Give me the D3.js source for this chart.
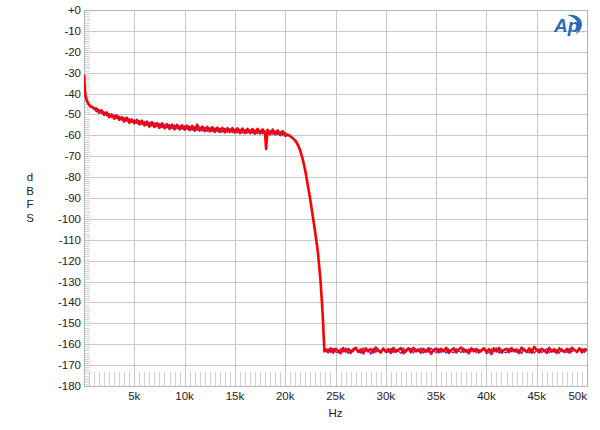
<!DOCTYPE html>
<html><head><meta charset="utf-8">
<script src="https://cdn.jsdelivr.net/npm/d3@7"></script>
<style>body{margin:0;background:#fff}svg{display:block}</style>
</head><body><svg id="c" width="600" height="430"></svg>
<script>
// frequency bins in kHz
const freqKHz = [0.02,0.06,0.1,0.15,0.25,0.4,0.6,0.8,1,
1.25,1.5,1.75,2,2.25,2.5,2.75,3,3.25,3.5,3.75,4,4.25,4.5,4.75,5,
5.25,5.5,5.75,6,6.25,6.5,6.75,7,7.25,7.5,7.75,8,8.25,8.5,8.75,9,9.25,9.5,9.75,10,
10.25,10.5,10.75,11,11.25,11.5,11.75,12,12.25,12.5,12.75,13,13.25,13.5,13.75,14,14.25,14.5,14.75,15,
15.25,15.5,15.75,16,16.25,16.5,16.75,17,17.25,17.5,17.75,18,
18.1,
18.25,18.5,18.75,19,19.25,19.5,19.75,20,
20.25,20.5,20.75,21,21.25,21.5,21.75,22,22.25,22.5,22.75,23,23.25,23.5,
23.65,23.75,23.85,23.9,24,
24.25,24.5,24.75,25,
25.25,25.5,25.75,26,26.25,26.5,26.75,27,27.25,27.5,27.75,28,28.25,28.5,28.75,29,29.25,29.5,29.75,30,
30.25,30.5,30.75,31,31.25,31.5,31.75,32,32.25,32.5,32.75,33,33.25,33.5,33.75,34,34.25,34.5,34.75,35,
35.25,35.5,35.75,36,36.25,36.5,36.75,37,37.25,37.5,37.75,38,38.25,38.5,38.75,39,39.25,39.5,39.75,40,
40.25,40.5,40.75,41,41.25,41.5,41.75,42,42.25,42.5,42.75,43,43.25,43.5,43.75,44,44.25,44.5,44.75,45,
45.25,45.5,45.75,46,46.25,46.5,46.75,47,47.25,47.5,47.75,48,48.25,48.5,48.75,49,49.25,49.5,49.75,50];

// blue channel (drawn underneath)
const blueDb = [-31.5,-36.5,-39.3,-41.4,-43.3,-44.9,-46.3,-46.8,-47.4,
-48.8,-47.6,-49.6,-48.6,-50.6,-49.5,-51.4,-50.2,-52.0,-50.8,-52.7,-51.4,-53.2,-52.0,-53.8,-52.6,
-54.3,-52.9,-54.8,-53.3,-55.2,-53.7,-55.6,-54.0,-55.9,-54.3,-56.3,-54.6,-56.5,-54.8,-56.8,-55.0,-56.9,-55.3,-57.1,-55.4,
-57.3,-55.6,-57.5,-55.8,-57.7,-56.0,-57.9,-56.1,-58.1,-56.3,-58.2,-56.4,-58.3,-56.5,-58.5,-56.6,-58.6,-56.8,-58.7,-56.9,
-58.8,-57.0,-58.9,-57.2,-59.0,-57.3,-59.1,-57.4,-59.2,-57.5,-59.3,-57.6,
-65.8,
-59.4,-57.8,-59.5,-57.9,-59.7,-58.1,-59.9,-58.6,
-59.9,-60.6,-61.5,-62.8,-64.7,-67.6,-71.9,-77.4,-84.4,-91.5,-99.4,-107.5,-116.5,-129.5,
-140.5,-148.6,-159.6,-163.2,-163.0,
-162.2,-163.9,-161.9,-163.7,
-164.1,-162.2,-163.8,-161.8,-164.4,-162.6,-163.6,-162.0,-163.0,-164.2,-161.7,-163.4,-162.4,-164.8,-162.0,-163.9,-162.2,-163.3,-161.8,-164.0,
-163.7,-162.0,-164.0,-162.4,-163.3,-164.4,-161.8,-163.9,-162.6,-162.0,-164.2,-162.2,-163.7,-161.7,-164.3,-162.9,-163.8,-161.9,-163.2,-164.0,
-162.0,-164.0,-162.5,-164.3,-162.2,-163.6,-164.1,-162.0,-163.2,-164.0,-161.8,-163.9,-162.2,-163.3,-162.0,-164.1,-162.5,-163.7,-162.1,-164.6,
-164.0,-162.2,-163.6,-161.8,-164.3,-162.5,-163.8,-164.1,-162.0,-163.6,-162.2,-164.0,-162.6,-164.5,-162.0,-163.2,-164.1,-162.2,-164.3,-162.9,
-162.2,-164.0,-163.3,-162.0,-164.2,-162.5,-163.9,-162.6,-164.3,-162.2,-163.2,-164.0,-162.0,-163.7,-162.5,-164.1,-162.6,-162.1,-163.9,-162.0];

// red channel (drawn on top)
const redDb = [-31,-36,-39,-41,-43,-44.6,-46,-46.4,-47.1,
-47.2,-49.1,-48.0,-50.2,-49.0,-51.3,-50.0,-52.0,-50.4,-52.6,-51.3,-53.4,-51.5,-54.0,-52.4,-54.2,
-52.6,-54.8,-53.0,-55.3,-53.4,-55.8,-53.7,-56.0,-54.1,-56.4,-54.3,-56.6,-54.6,-56.9,-54.9,-57.1,-55.0,-57.2,-55.2,-57.3,
-55.3,-57.5,-55.5,-57.8,-54.9,-57.7,-55.8,-58.0,-56.0,-58.1,-56.1,-58.3,-56.3,-58.4,-56.4,-58.6,-56.5,-58.4,-56.6,-58.7,
-56.7,-58.9,-56.8,-59.0,-56.9,-58.9,-57.0,-59.2,-56.9,-59.1,-57.2,-59.3,
-66.5,
-57.3,-59.5,-57.2,-59.6,-57.6,-59.9,-58.0,-60.2,
-59.7,-60.4,-61.3,-62.5,-64.4,-67.3,-71.6,-77,-84,-91,-99,-107,-116,-129,
-140,-148,-159,-163.5,-162.4,
-163.8,-162.0,-164.0,-162.2,
-163.2,-164.3,-161.9,-163.5,-162.2,-164.1,-162.6,-161.7,-163.7,-162.5,-164.4,-162.0,-163.4,-162.3,-163.9,-161.6,-163.1,-164.0,-162.1,-163.5,
-162.4,-164.2,-161.8,-163.6,-162.6,-161.9,-164.3,-162.9,-162.0,-163.8,-161.7,-163.4,-162.5,-164.0,-162.2,-163.6,-161.9,-164.6,-162.7,-162.1,
-163.8,-162.2,-163.4,-161.7,-164.1,-162.9,-162.0,-163.9,-162.5,-161.6,-163.6,-162.7,-164.3,-162.0,-163.4,-162.2,-163.9,-162.9,-161.9,-163.7,
-162.4,-164.7,-162.0,-163.5,-161.8,-164.0,-162.7,-162.2,-163.8,-161.9,-163.4,-162.5,-164.2,-161.6,-162.9,-163.7,-162.0,-164.0,-161.3,-162.8,
-163.9,-162.2,-163.0,-164.1,-161.8,-163.5,-162.4,-164.2,-162.0,-163.1,-163.7,-162.2,-164.0,-161.7,-162.8,-163.6,-162.0,-163.9,-162.4,-163.0];

const xTicks = [5,10,15,20,25,30,35,40,45,50];
const xTickLabels = ["5k","10k","15k","20k","25k","30k","35k","40k","45k","50k"];
const yTicks = [0,-10,-20,-30,-40,-50,-60,-70,-80,-90,-100,-110,-120,-130,-140,-150,-160,-170,-180];
const yTickLabels = ["+0","-10","-20","-30","-40","-50","-60","-70","-80","-90","-100","-110","-120","-130","-140","-150","-160","-170","-180"];
const yTitle = ["d","B","F","S"];
const xTitle = "Hz";

const L=84, R=587, T=10, B=386;
const x = d3.scaleLinear().domain([0,50]).range([L,R]);
const y = d3.scaleLinear().domain([-180,0]).range([B,T]);
const svg = d3.select("#c");
const font = "'Liberation Sans', Arial, sans-serif";
const fs = 11.5;

const g = svg.append("g");
// left minor ticks every 1 dB
g.selectAll("line.ym").data(d3.range(-179,0,1)).join("line")
  .attr("x1",L).attr("x2",L+6).attr("y1",d=>Math.round(y(d))+0.5).attr("y2",d=>Math.round(y(d))+0.5)
  .attr("stroke","#d8d8d8").attr("stroke-width",1);
// bottom minor ticks every 0.5 kHz
g.selectAll("line.xm").data(d3.range(0.5,50,0.5)).join("line")
  .attr("x1",d=>Math.round(x(d))+0.5).attr("x2",d=>Math.round(x(d))+0.5).attr("y1",B-14).attr("y2",B)
  .attr("stroke","#cfcfcf").attr("stroke-width",1);
// grid
g.selectAll("line.gy").data(yTicks).join("line")
  .attr("x1",L).attr("x2",R).attr("y1",d=>Math.round(y(d))+0.5).attr("y2",d=>Math.round(y(d))+0.5)
  .attr("stroke","#c8c8c8").attr("stroke-width",1);
g.selectAll("line.gx").data(xTicks).join("line")
  .attr("x1",d=>Math.round(x(d))+0.5).attr("x2",d=>Math.round(x(d))+0.5).attr("y1",T).attr("y2",B)
  .attr("stroke","#c8c8c8").attr("stroke-width",1);
// frame
svg.append("rect").attr("x",L+0.5).attr("y",T+0.5).attr("width",R-L).attr("height",B-T)
  .attr("fill","none").attr("stroke","#b4b4b4").attr("stroke-width",1);

// traces
const line = d3.line().x((d,i)=>x(freqKHz[i])).y(d=>y(d));
svg.append("clipPath").attr("id","cp").append("rect").attr("x",L).attr("y",T).attr("width",R-L).attr("height",B-T);
svg.append("path").datum(blueDb).attr("d",line).attr("fill","none").attr("stroke","#2b2bff").attr("stroke-width",1.2).attr("clip-path","url(#cp)").attr("stroke-linejoin","round");
svg.append("path").datum(redDb).attr("d",line).attr("fill","none").attr("stroke","#ff0000").attr("stroke-width",2.6).attr("clip-path","url(#cp)").attr("stroke-linejoin","round");

// y labels
svg.selectAll("text.yl").data(yTicks).join("text")
  .attr("x",81).attr("y",d=>y(d)+4).attr("text-anchor","end")
  .attr("font-family",font).attr("font-size",fs).attr("fill","#222")
  .text((d,i)=>yTickLabels[i]);
// x labels
svg.selectAll("text.xl").data(xTicks).join("text")
  .attr("x",(d,i)=> i===xTicks.length-1 ? R : x(d)).attr("y",400)
  .attr("text-anchor",(d,i)=> i===xTicks.length-1 ? "end" : "middle")
  .attr("font-family",font).attr("font-size",fs).attr("fill","#222")
  .text((d,i)=>xTickLabels[i]);
// titles
svg.selectAll("text.yt").data(yTitle).join("text")
  .attr("x",30).attr("y",(d,i)=>181+i*13.5).attr("text-anchor","middle")
  .attr("font-family",font).attr("font-size",fs).attr("fill","#222").text(d=>d);
svg.append("text").attr("x",x(25)).attr("y",417).attr("text-anchor","middle")
  .attr("font-family",font).attr("font-size",fs).attr("fill","#222").text(xTitle);

// AP logo
const logo = svg.append("g").attr("transform","translate(553,14)");
logo.append("text").attr("x",1).attr("y",18).attr("font-family",font).attr("font-size",19)
  .attr("font-style","italic").attr("font-weight","bold").attr("fill","#2a68b8").text("Ap");
logo.append("path").attr("d","M14,1 C30,-1 34,14 22,21 C28,14 26,4 14,1 Z").attr("fill","#2a68b8");
</script></body></html>
